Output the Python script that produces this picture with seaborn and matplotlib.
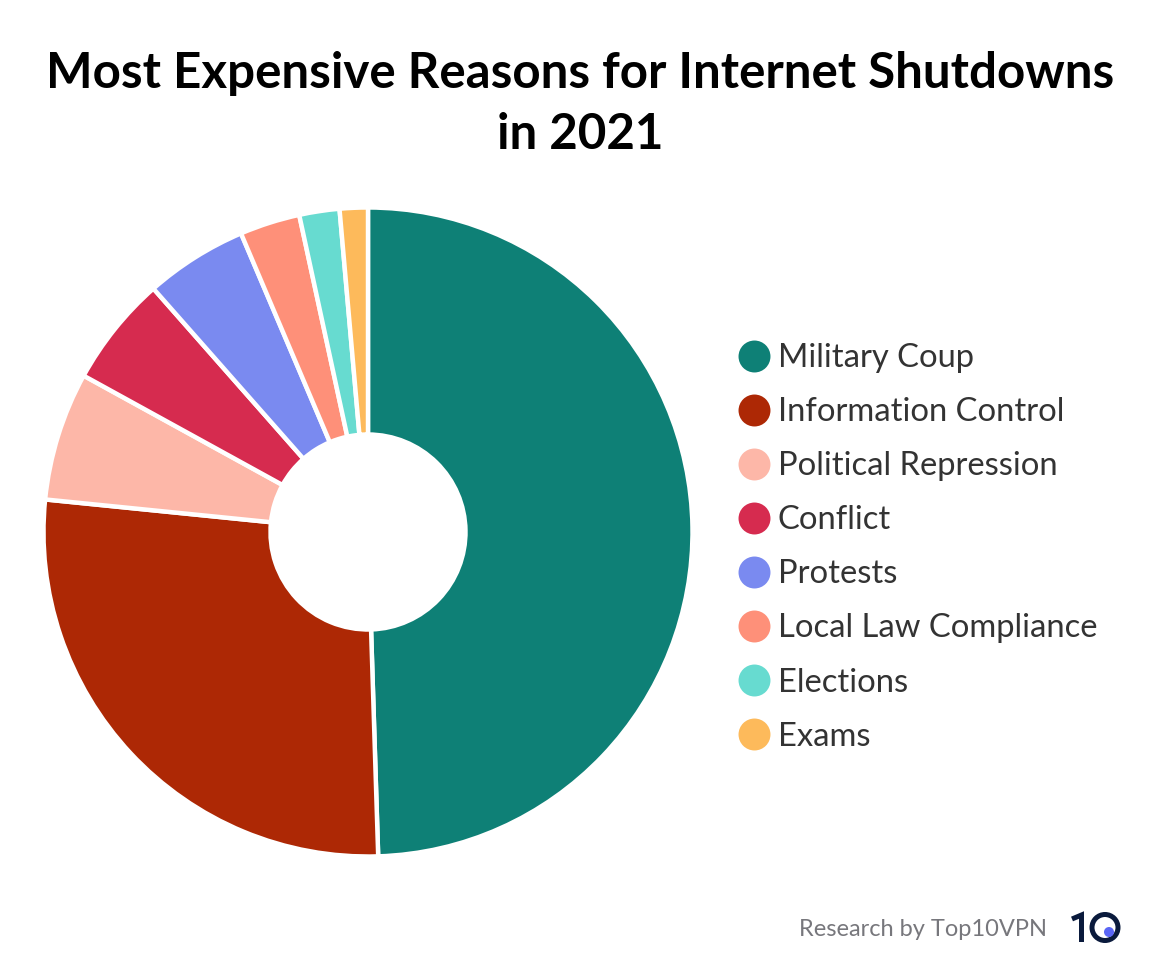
import matplotlib
matplotlib.use("Agg")
import matplotlib.pyplot as plt
from matplotlib.lines import Line2D
from matplotlib.patches import Circle
import seaborn as sns

reasons = ["Military Coup", "Information Control", "Political Repression", "Conflict",
           "Protests", "Local Law Compliance", "Elections", "Exams"]
shares = [49.5, 27.1, 6.4, 5.5, 5.1, 3.0, 2.0, 1.4]
hex_colors = ["#0e8076", "#ad2805", "#fdb7a8", "#d62b4f", "#7a8af0", "#fe9079", "#67dbd0", "#fdba5b"]

sns.set_theme(style="white")
plt.rcParams["font.family"] = ["Lato", "DejaVu Sans"]
palette = sns.color_palette(hex_colors)

W, H = 1160, 976
fig = plt.figure(figsize=(W / 100, H / 100), dpi=100, facecolor="white")

# pie sits in a square axes, radius 324px around (368, 532)
cx, cy, r = 368, 532, 324.5
ax = fig.add_axes([(cx - r) / W, 1 - (cy + r) / H, 2 * r / W, 2 * r / H])
ax.pie(shares, colors=palette, startangle=90, counterclock=False, radius=1,
       wedgeprops=dict(width=1 - 97.5 / r, edgecolor="white", linewidth=3.2))
ax.set_xlim(-1, 1)
ax.set_ylim(-1, 1)

fig.text(580 / W, 1 - 74 / H, "Most Expensive Reasons for Internet Shutdowns", ha="center", va="center",
         fontsize=35.5, fontweight="bold", color="black")
fig.text(580 / W, 1 - 134 / H, "in 2021", ha="center", va="center",
         fontsize=35.5, fontweight="bold", color="black")

handles = [Line2D([], [], linestyle="none", marker="o", markersize=23, color=c, markeredgewidth=0) for c in palette]
fig.legend(handles, reasons, loc="upper left", bbox_to_anchor=(735 / W, 1 - 343 / H), frameon=False,
           fontsize=23.6, labelcolor="#333333", labelspacing=0.735, handletextpad=0.13, handlelength=1.17,
           borderpad=0, borderaxespad=0)

fig.text(1047 / W, 1 - 930 / H, "Research by Top10VPN", ha="right", va="center", fontsize=17, color="#77777c")

# logo in pixel coordinates
logo = fig.add_axes([0, 0, 1, 1], facecolor="none")
logo.set_xlim(0, W)
logo.set_ylim(H, 0)
logo.axis("off")
navy = "#0a1a3c"
logo.plot([1072, 1081.5, 1081.5], [919, 915, 942], color=navy, lw=3.6, solid_capstyle="butt", solid_joinstyle="miter")
logo.add_patch(Circle((1105, 927.5), 13, fill=False, edgecolor=navy, lw=3.6))
logo.add_patch(Circle((1109, 932), 5, color="#5a66f5", lw=0))

fig.savefig("out.png", dpi=100)
